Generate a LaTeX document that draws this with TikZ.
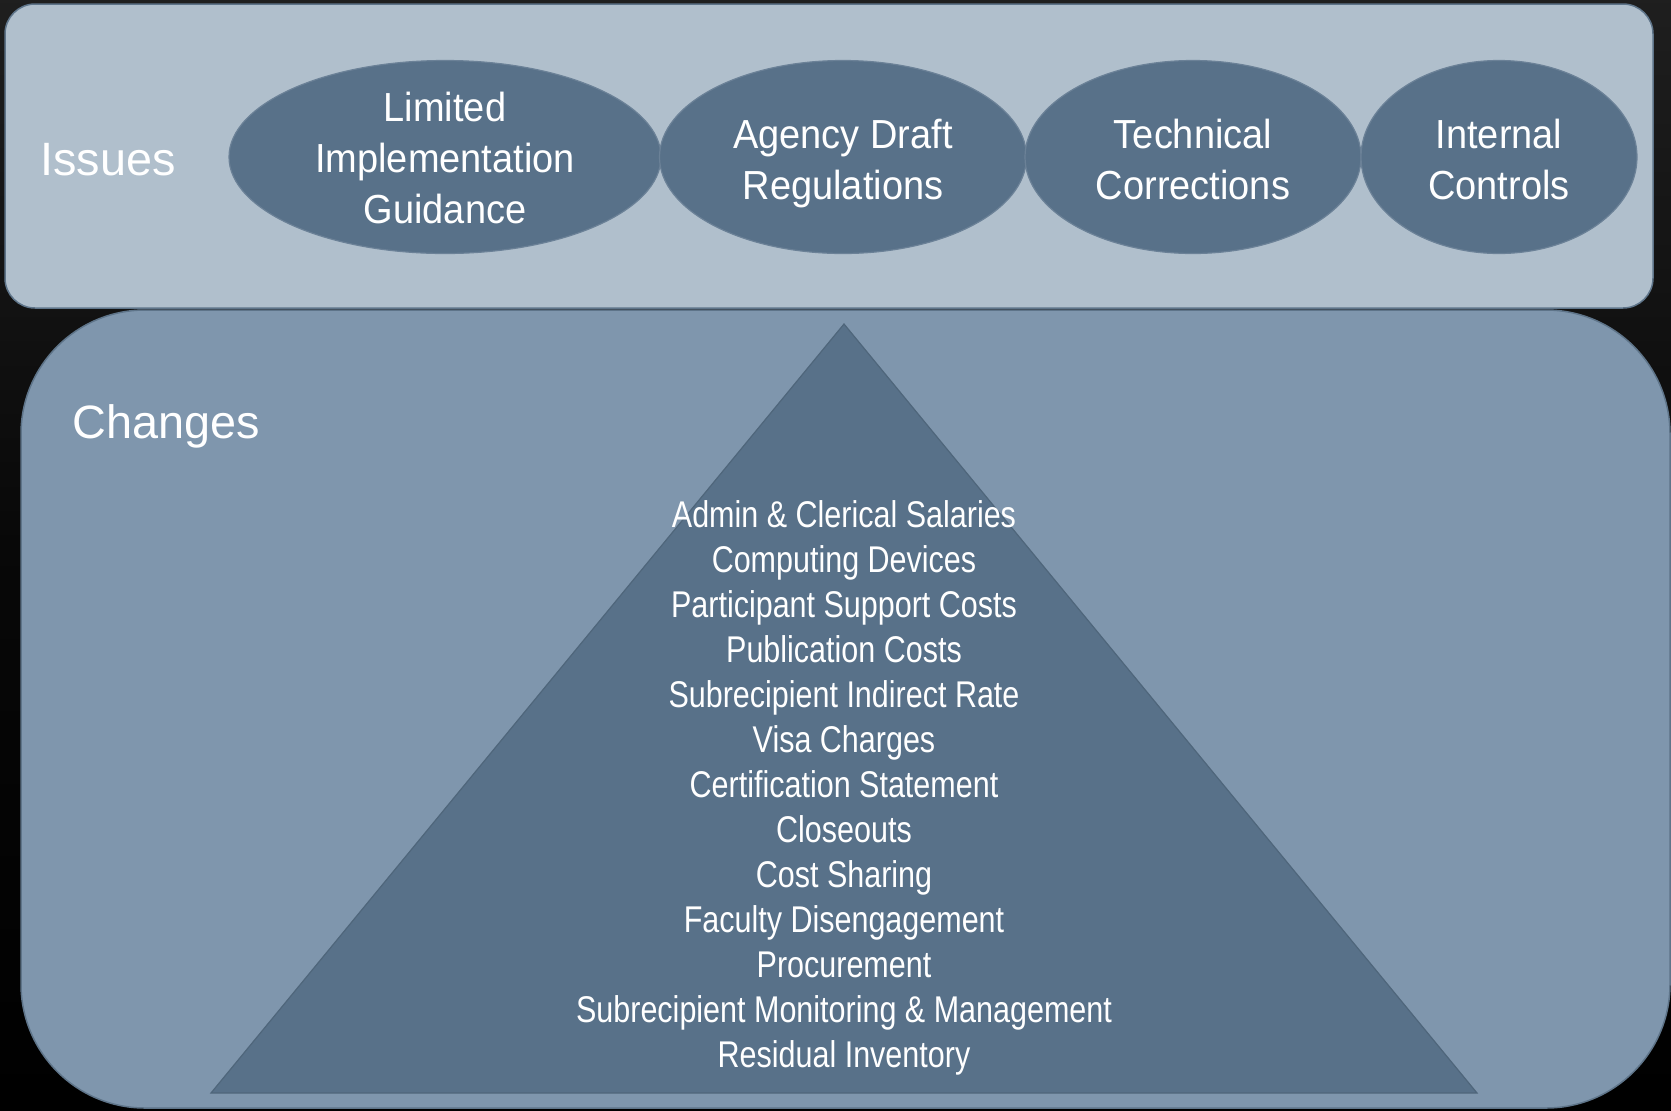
\documentclass[tikz,border=0pt]{standalone}
\usepackage{fontspec}
\setmainfont{Liberation Sans}
\newfontfamily\ovalfont[FakeStretch=0.935]{Liberation Sans}
\newfontfamily\listfont[FakeStretch=0.82]{Liberation Sans}
\usetikzlibrary{shapes.geometric}
\definecolor{panelTop}{HTML}{B0BFCC}
\definecolor{panelLow}{HTML}{7F96AD}
\definecolor{slateDark}{HTML}{587189}
\definecolor{panelEdge}{HTML}{5E7489}
\definecolor{shapeEdge}{HTML}{6B8197}
\tikzset{
  oval/.style={ellipse, fill=slateDark, draw=shapeEdge, line width=0.6pt,
    inner sep=0pt, minimum height=96.5pt},
  ovaltext/.style={text=white, align=center, inner sep=0pt, text depth=0pt,
    font=\ovalfont\fontsize{20.3}{25.5}\selectfont},
  heading/.style={anchor=west, text=white, inner sep=0pt,
    font=\fontsize{23.4}{28}\selectfont},
}
\begin{document}
\begin{tikzpicture}[x=0.5pt, y=-0.5pt]
  % page background
  \shade[top color=black!88, bottom color=black, middle color=black!97]
    (0,0) rectangle (1671,1110);
  \useasboundingbox (0,0) rectangle (1671,1110);

  % upper panel
  \draw[fill=panelTop, draw=panelEdge, line width=0.75pt, rounded corners=15pt]
    (5,4) rectangle (1653,308);
  % lower panel
  \draw[fill=panelLow, draw=panelEdge, line width=0.75pt, rounded corners=62pt]
    (21,310) rectangle (1670,1108);

  % pyramid
  \coordinate (apex) at (844,324);
  \coordinate (baseL) at (211,1093);
  \coordinate (baseR) at (1477,1093);
  \draw[fill=slateDark, draw=black!10!slateDark, line width=0.6pt]
    (apex) -- (baseL) -- (baseR) -- cycle;

  % headings
  \node[heading] (issues) at (40,160) {Issues};
  \node[heading] (changes) at (72,426) {Changes};

  % issue ovals and their labels
  \node[oval, minimum width=216pt] (guidance) at (445,157) {};
  \node[ovaltext] (guidanceText) at ([yshift=-0.5pt]guidance.center)
    {Limited\\Implementation\\Guidance};
  \node[oval, minimum width=183.5pt] (drafts) at (843,157) {};
  \node[ovaltext] (draftsText) at ([yshift=-1pt]drafts.center)
    {Agency Draft\\Regulations};
  \node[oval, minimum width=168pt] (technical) at (1193,157) {};
  \node[ovaltext] (technicalText) at ([yshift=-1pt]technical.center)
    {Technical\\Corrections};
  \node[oval, minimum width=138pt] (controls) at (1499,157) {};
  \node[ovaltext] (controlsText) at ([yshift=-1pt]controls.center)
    {Internal\\Controls};

  % list of changes inside the pyramid
  \node[text=white, align=center, inner sep=0pt,
        font=\listfont\fontsize{18.6}{22.5}\selectfont] (list) at (844,788)
    {Admin \& Clerical Salaries\\
     Computing Devices\\
     Participant Support Costs\\
     Publication Costs\\
     Subrecipient Indirect Rate\\
     Visa Charges\\
     Certification Statement\\
     Closeouts\\
     Cost Sharing\\
     Faculty Disengagement\\
     Procurement\\
     Subrecipient Monitoring \& Management\\
     Residual Inventory};
\end{tikzpicture}
\end{document}
